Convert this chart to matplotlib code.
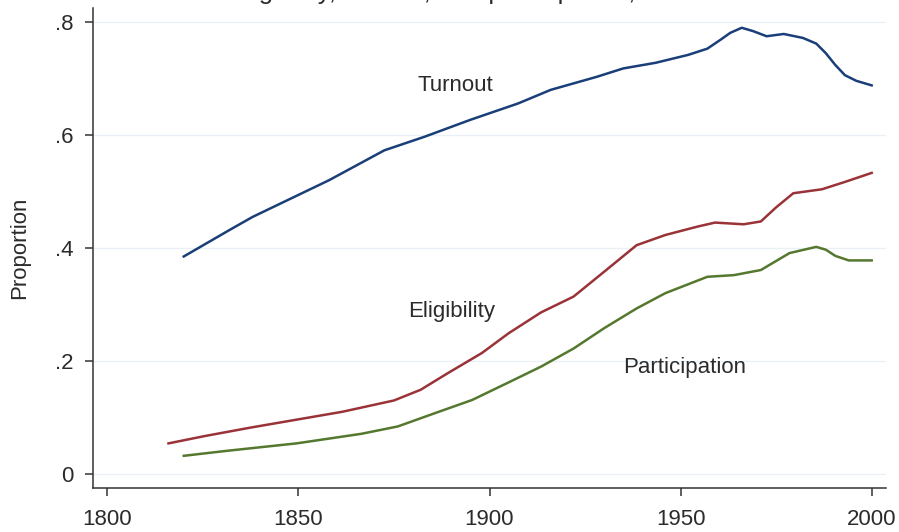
import matplotlib.pyplot as plt

plt.rcParams['font.family'] = ['Liberation Sans', 'DejaVu Sans']

# values
turnout_years = [1820, 1832, 1838, 1858, 1872.5, 1883, 1895, 1907.5, 1916, 1928, 1935, 1943.5,
                 1952, 1957, 1960.5, 1963, 1966, 1969, 1972.5, 1977, 1982, 1985.5, 1988, 1990.5,
                 1993, 1996, 2000]
turnout = [0.385, 0.432, 0.455, 0.520, 0.573, 0.597, 0.627, 0.656, 0.680, 0.703, 0.718, 0.728,
           0.742, 0.753, 0.769, 0.781, 0.790, 0.784, 0.775, 0.779, 0.772, 0.762, 0.745, 0.724,
           0.706, 0.696, 0.688]

elig_years = [1816, 1825.5, 1837.5, 1849.5, 1861.5, 1875, 1882, 1889, 1898, 1905, 1913.5, 1922,
              1930, 1938.5, 1946, 1954.5, 1959, 1966.5, 1971, 1975, 1979.5, 1987, 1993, 2000]
eligibility = [0.054, 0.067, 0.082, 0.096, 0.110, 0.130, 0.149, 0.178, 0.214, 0.249, 0.286, 0.314,
               0.358, 0.405, 0.423, 0.438, 0.445, 0.442, 0.447, 0.472, 0.497, 0.504, 0.517, 0.533]

part_years = [1820, 1831.5, 1849.5, 1866.5, 1876, 1885.5, 1895.5, 1905, 1913.5, 1922, 1930, 1938.5,
              1946, 1957, 1964, 1971, 1978.5, 1985.5, 1988, 1990.5, 1994, 2000]
participation = [0.032, 0.041, 0.054, 0.071, 0.084, 0.107, 0.131, 0.162, 0.190, 0.222, 0.258, 0.293,
                 0.320, 0.349, 0.352, 0.361, 0.391, 0.402, 0.397, 0.386, 0.378, 0.378]

xticks = [1800, 1850, 1900, 1950, 2000]
yticks = [0, 0.2, 0.4, 0.6, 0.8]
ytick_labels = ['0', '.2', '.4', '.6', '.8']

txt = '#2b2b2b'

fig = plt.figure(figsize=(8.99, 5.32), dpi=100)
ax = fig.add_axes([93 / 899, 1 - 488 / 532, (886 - 93) / 899, (488 - 8) / 532])

for y in yticks:
    ax.axhline(y, color='#eaf0f5', lw=1.0, zorder=0)

ax.plot(turnout_years, turnout, color='#1a3f78', lw=1.8)
ax.plot(elig_years, eligibility, color='#9a3338', lw=1.8)
ax.plot(part_years, participation, color='#55782f', lw=1.8)

ax.text(1891, 0.688, 'Turnout', fontsize=16, color=txt, ha='center', va='center')
ax.text(1890, 0.288, 'Eligibility', fontsize=16, color=txt, ha='center', va='center')
ax.text(1951, 0.189, 'Participation', fontsize=16, color=txt, ha='center', va='center')

ax.set_xlim(1796.25, 2003.75)
ax.set_ylim(-0.025, 0.825)
ax.set_xticks(xticks)
ax.set_yticks(yticks)
ax.set_yticklabels(ytick_labels)
ax.tick_params(axis='both', labelsize=16, labelcolor=txt, color='#333333', length=6, width=1.1)
ax.tick_params(axis='y', pad=8)
ax.tick_params(axis='x', pad=9)
ax.set_ylabel('Proportion', fontsize=16, color=txt, labelpad=18)

for s in ['top', 'right']:
    ax.spines[s].set_visible(False)
for s in ['left', 'bottom']:
    ax.spines[s].set_color('#333333')
    ax.spines[s].set_linewidth(1.1)

# title sits mostly above the cropped top edge, as in the reference
fig.text(0.557, 1 + 1 / 532, 'Eligibility, turnout, and participation, 1816\u20132000',
         fontsize=18.6, color=txt, ha='center', va='baseline')

fig.savefig('out.png', dpi=100)
